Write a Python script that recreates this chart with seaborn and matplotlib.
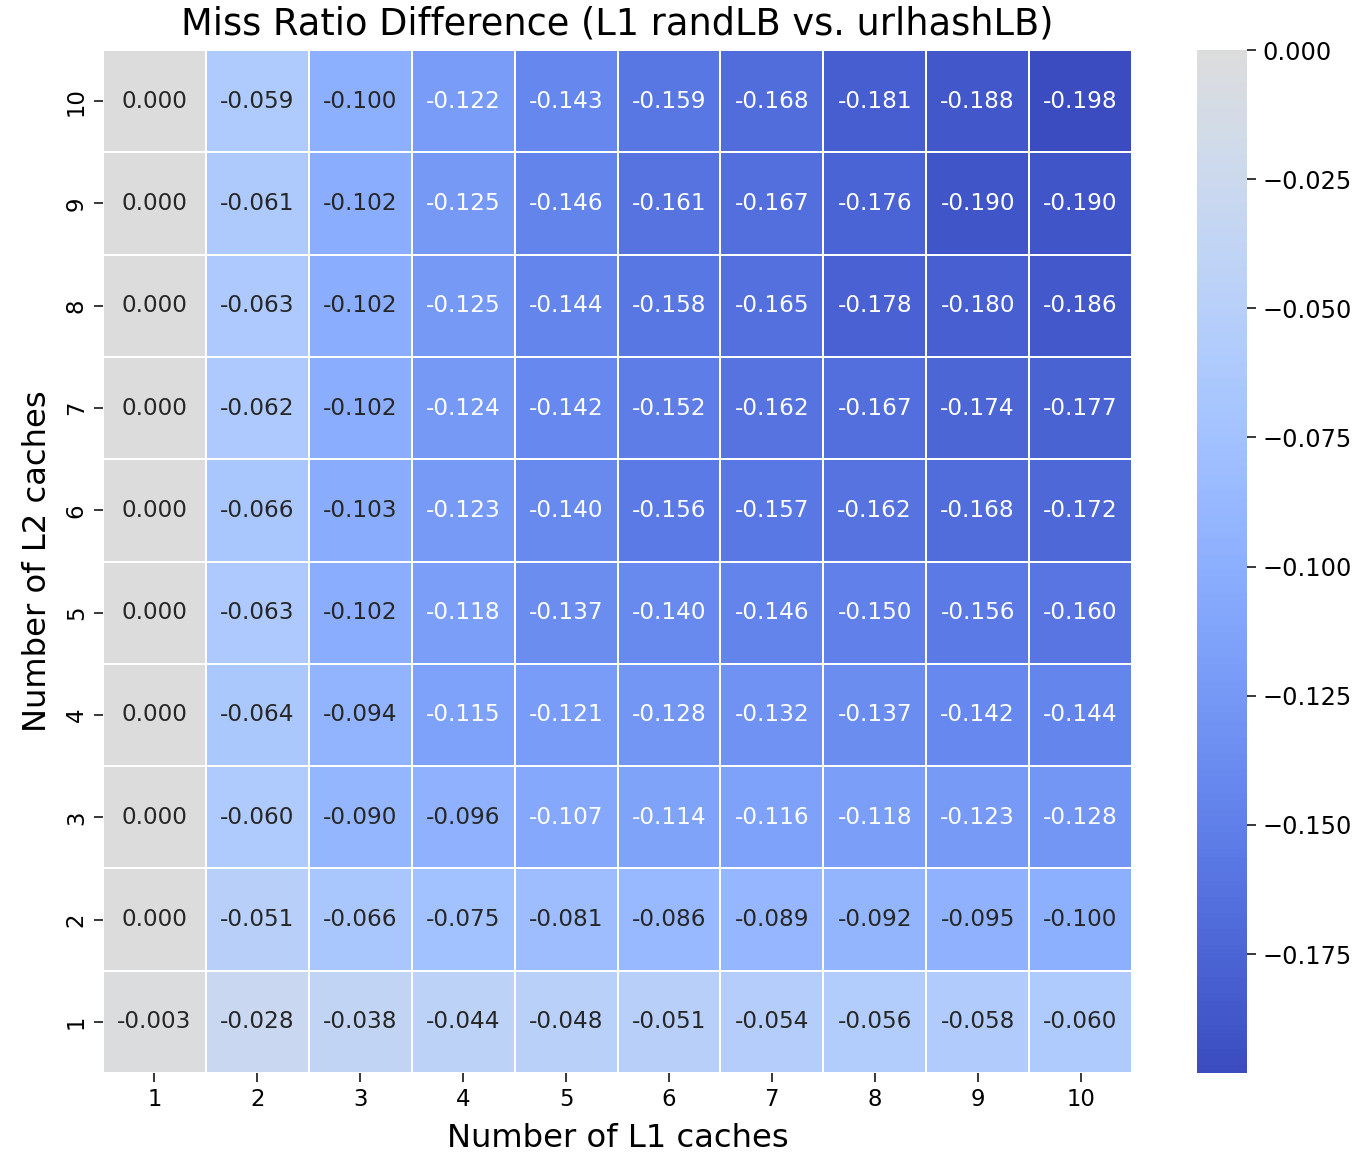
import numpy as np
import pandas as pd
import matplotlib
matplotlib.use("Agg")
import matplotlib.pyplot as plt
import seaborn as sns

l1_labels = [1, 2, 3, 4, 5, 6, 7, 8, 9, 10]
l2_labels = [10, 9, 8, 7, 6, 5, 4, 3, 2, 1]

row_l2_10 = [0.000, -0.059, -0.100, -0.122, -0.143, -0.159, -0.168, -0.181, -0.188, -0.198]
row_l2_9 = [0.000, -0.061, -0.102, -0.125, -0.146, -0.161, -0.167, -0.176, -0.190, -0.190]
row_l2_8 = [0.000, -0.063, -0.102, -0.125, -0.144, -0.158, -0.165, -0.178, -0.180, -0.186]
row_l2_7 = [0.000, -0.062, -0.102, -0.124, -0.142, -0.152, -0.162, -0.167, -0.174, -0.177]
row_l2_6 = [0.000, -0.066, -0.103, -0.123, -0.140, -0.156, -0.157, -0.162, -0.168, -0.172]
row_l2_5 = [0.000, -0.063, -0.102, -0.118, -0.137, -0.140, -0.146, -0.150, -0.156, -0.160]
row_l2_4 = [0.000, -0.064, -0.094, -0.115, -0.121, -0.128, -0.132, -0.137, -0.142, -0.144]
row_l2_3 = [0.000, -0.060, -0.090, -0.096, -0.107, -0.114, -0.116, -0.118, -0.123, -0.128]
row_l2_2 = [0.000, -0.051, -0.066, -0.075, -0.081, -0.086, -0.089, -0.092, -0.095, -0.100]
row_l2_1 = [-0.003, -0.028, -0.038, -0.044, -0.048, -0.051, -0.054, -0.056, -0.058, -0.060]

cbar_ticks = [0.0, -0.025, -0.05, -0.075, -0.1, -0.125, -0.15, -0.175]

df = pd.DataFrame(
    [row_l2_10, row_l2_9, row_l2_8, row_l2_7, row_l2_6,
     row_l2_5, row_l2_4, row_l2_3, row_l2_2, row_l2_1],
    index=l2_labels, columns=l1_labels)

fig = plt.figure(figsize=(10, 1155 / 136.5), dpi=136.5)
ax = fig.add_axes([103 / 1365, 1 - 1073 / 1155, (1132 - 103) / 1365, (1073 - 50) / 1155])
cax = fig.add_axes([1197 / 1365, 1 - 1073 / 1155, 50 / 1365, (1073 - 50) / 1155])

sns.heatmap(df, ax=ax, cbar_ax=cax, cmap="coolwarm", center=0,
            annot=True, fmt=".3f", linewidths=1, linecolor="white",
            annot_kws={"fontsize": 12.2})

ax.set_title("Miss Ratio Difference (L1 randLB vs. urlhashLB)", fontsize=19.4, pad=8)
ax.set_xlabel("Number of L1 caches", fontsize=17, labelpad=6)
ax.set_ylabel("Number of L2 caches", fontsize=17, labelpad=6)
ax.tick_params(labelsize=12, length=4.5)
cax.tick_params(labelsize=12.7, length=4.5)
cax.set_yticks(cbar_ticks)
cax.set_yticklabels([f"{v:.3f}".replace("-", "\u2212") for v in cbar_ticks])

fig.savefig("out.png", dpi=136.5)
